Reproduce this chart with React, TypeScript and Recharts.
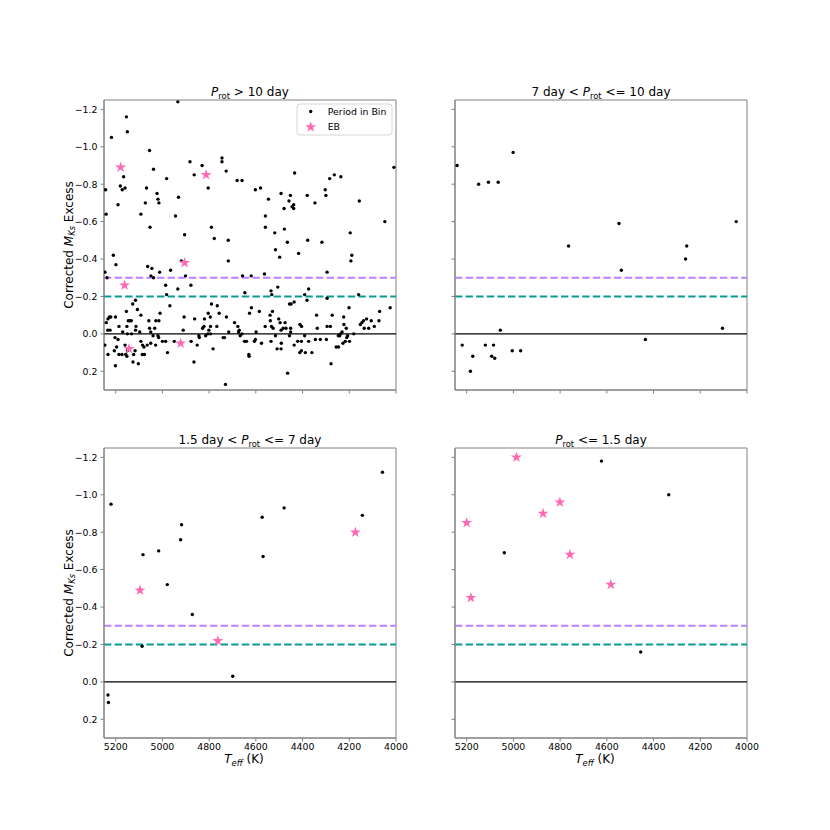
import React from "react";
import {
  ScatterChart,
  Scatter,
  XAxis,
  YAxis,
  ReferenceLine,
  ReferenceArea,
} from "recharts";

// [Teff (K), corrected M_Ks excess]
const slowDots: [number, number][] = [
  [5243, -0.77], [5241, -0.64], [5246, -0.33], [5237, -0.3], [5218, -1.05], [5210, -0.42],
  [5199, -0.37], [5190, -0.69], [5180, -0.79], [5172, -0.77], [5166, -0.84], [5160, -0.78],
  [5154, -1.16], [5150, -1.08], [5092, -0.64], [5068, -0.78], [5073, -0.7], [5063, -0.36],
  [5055, -0.98], [5053, -0.57], [5049, -0.31], [5045, -0.35], [5038, -0.88], [5038, -0.3],
  [5023, -0.75], [5019, -0.72], [5015, -0.7], [5012, -0.33], [4986, -0.26], [4982, -0.83],
  [4982, -0.21], [4965, -0.34], [4944, -0.63], [4934, -1.24], [4931, -0.73], [4934, -0.24],
  [4919, -0.39], [4905, -0.53], [4901, -0.31], [4882, -0.92], [4878, -0.26], [4864, -0.85],
  [4830, -0.9], [4804, -0.78], [4790, -0.57], [4778, -0.51], [4745, -0.94], [4745, -0.92],
  [4727, -0.87], [4718, -0.5], [4718, -0.39], [4680, -0.82], [4659, -0.82], [4657, -0.31],
  [4647, -0.22], [4620, -0.31], [4602, -0.77], [4580, -0.78], [4563, -0.32], [4559, -0.63],
  [4559, -0.57], [4546, -0.72], [4535, -0.23], [4532, -0.21], [4519, -0.54], [4516, -0.45],
  [4506, -0.25], [4498, -0.41], [4492, -0.75], [4479, -0.67], [4478, -0.56], [4465, -0.49],
  [4458, -0.71], [4452, -0.74], [4445, -0.68], [4438, -0.69], [4438, -0.67], [4434, -0.86],
  [4417, -0.43], [4380, -0.74], [4378, -0.5], [4347, -0.7], [4317, -0.49], [4303, -0.77],
  [4300, -0.74], [4295, -0.33], [4284, -0.83], [4264, -0.85], [4236, -0.84], [4196, -0.54],
  [4193, -0.39], [4189, -0.42], [4157, -0.71], [4048, -0.6], [4009, -0.89], [4160, -0.21],
  [4025, -0.14],
  // band around zero, hot side
  [4968, -0.15], [4627, -0.11], [5115, -0.18], [5127, -0.16], [5107, -0.13], [5154, -0.12],
  [5092, -0.1], [5010, -0.11], [5227, -0.09], [5233, -0.08], [5221, -0.09], [5201, -0.09],
  [5240, -0.06], [5234, -0.02], [5224, -0.02], [5186, -0.04], [5170, -0.01], [5152, -0.04],
  [5139, -0.07], [5133, -0.07], [5146, -0.07], [5113, -0.04], [5115, -0.02], [5097, -0.01],
  [5132, 0.0], [5150, 0.0], [5058, -0.07], [5028, -0.07], [5015, -0.07], [5055, -0.03],
  [5033, -0.03], [5050, -0.01], [5040, 0.01], [5019, 0.01], [5016, 0.02], [4911, -0.02],
  [4907, -0.09], [4862, -0.08], [4820, -0.08], [4795, -0.09], [4790, -0.16], [4765, -0.15],
  [4757, -0.11], [4804, -0.11], [4828, -0.03], [4822, -0.04], [4794, -0.04], [4801, -0.02],
  [4767, -0.04], [4844, 0.01], [4842, 0.02], [4815, 0.01], [4805, 0.0], [4794, 0.0],
  [4740, 0.02], [4734, 0.02], [4726, -0.09], [4716, -0.01], [4691, -0.06], [4677, -0.04],
  [4671, -0.02], [4667, 0.01], [4674, -0.01], [4659, 0.0], [4649, 0.04], [4629, 0.12],
  [5246, 0.06], [5233, 0.11], [5206, 0.09], [5203, 0.02], [5190, 0.03], [5196, 0.07],
  [5186, 0.11], [5173, 0.11], [5160, 0.06], [5157, 0.11], [5150, 0.09], [5152, 0.12],
  [5126, 0.15], [5103, 0.16], [5123, 0.11], [5117, 0.09], [5092, 0.04], [5085, 0.06],
  [5079, 0.07], [5086, 0.11], [5077, 0.11], [5201, 0.17], [5065, 0.06], [5050, 0.05],
  [5029, 0.06], [5000, 0.04], [4986, 0.04], [4978, 0.1], [4949, 0.04], [4865, 0.15],
  [4877, 0.04], [4851, 0.06], [4783, 0.08], [4730, 0.27], [4640, 0.04], [4630, 0.11],
  // band around zero, cool side
  [4374, -0.24], [4391, -0.21], [4381, -0.18], [4295, -0.19], [4619, -0.14], [4585, -0.12],
  [4539, -0.1], [4529, -0.12], [4538, -0.07], [4533, -0.04], [4526, -0.03], [4560, -0.04],
  [4502, -0.08], [4496, -0.06], [4492, -0.02], [4475, -0.06], [4471, -0.03], [4483, -0.03],
  [4456, -0.16], [4449, -0.16], [4436, -0.17], [4451, -0.03], [4451, -0.01], [4411, -0.05],
  [4404, -0.04], [4340, -0.1], [4337, -0.03], [4295, -0.04], [4281, -0.04], [4273, -0.1],
  [4224, -0.09], [4223, -0.05], [4213, -0.03], [4201, -0.14], [4238, 0.0], [4231, -0.01],
  [4181, 0.0], [4153, -0.05], [4146, -0.06], [4139, -0.07], [4126, -0.08], [4136, -0.03],
  [4117, -0.03], [4106, -0.07], [4093, -0.04], [4073, -0.07], [4070, -0.12],
  [4599, -0.01], [4606, 0.04], [4602, 0.03], [4576, 0.05], [4535, 0.04], [4516, 0.01],
  [4509, 0.08], [4492, 0.08], [4491, 0.05], [4456, 0.01], [4436, 0.06], [4421, 0.04],
  [4405, 0.04], [4391, 0.01], [4412, 0.1], [4405, 0.09], [4388, 0.1], [4360, 0.1],
  [4374, 0.04], [4345, 0.03], [4324, 0.03], [4298, 0.03], [4278, 0.16], [4256, 0.07],
  [4246, 0.07], [4247, 0.01], [4241, 0.01], [4227, 0.05], [4217, 0.04], [4211, 0.02],
  [4207, 0.01], [4199, 0.04], [4464, 0.21],
];
const slowStars: [number, number][] = [
  [5179, -0.89], [5162, -0.26], [4905, -0.38], [4813, -0.85], [5143, 0.08], [4922, 0.05],
];

const midDots: [number, number][] = [
  [5241, -0.9], [5001, -0.97], [5149, -0.8], [5107, -0.81], [5065, -0.81], [4764, -0.47],
  [4548, -0.59], [4538, -0.34], [4258, -0.47], [4263, -0.4], [4046, -0.6], [4105, -0.03],
  [5056, -0.02], [4435, 0.03], [5219, 0.06], [5174, 0.12], [5184, 0.2], [5120, 0.06],
  [5085, 0.06], [5093, 0.12], [5080, 0.13], [5005, 0.09], [4969, 0.09],
];

const fastDots: [number, number][] = [
  [5220, -0.95], [5083, -0.68], [5016, -0.7], [4979, -0.52], [4922, -0.76], [4918, -0.84],
  [4872, -0.36], [5087, -0.19], [4699, -0.03], [4573, -0.88], [4569, -0.67], [4479, -0.93],
  [4144, -0.89], [4058, -1.12], [5233, 0.07], [5231, 0.11],
];
const fastStars: [number, number][] = [[5096, -0.49], [4763, -0.22], [4174, -0.8]];

const ultraDots: [number, number][] = [[4623, -1.18], [4335, -1.0], [5039, -0.69], [4455, -0.16]];
const ultraStars: [number, number][] = [
  [4987, -1.2], [5200, -0.85], [5182, -0.45], [4873, -0.9], [4801, -0.96], [4758, -0.68],
  [4583, -0.52],
];

const xTicks = [5200, 5000, 4800, 4600, 4400, 4200, 4000];
const yTicks = [-1.2, -1.0, -0.8, -0.6, -0.4, -0.2, 0.0, 0.2];

const FONT = "'DejaVu Sans', sans-serif";
const SPINE = "#808080";
const PINK = "#ff69b4";
const PURPLE = "#bf80ff";
const TEAL = "#0a9b95";

const W = 292;
const H = 290;

const toRows = (pts: [number, number][]) => pts.map(([t, m]) => ({ t, m }));

function starPoints(cx: number, cy: number, r: number) {
  const inner = r * 0.382;
  const pts: string[] = [];
  for (let i = 0; i < 10; i++) {
    const rad = i % 2 === 0 ? r : inner;
    const a = (Math.PI / 5) * i - Math.PI / 2;
    pts.push(`${cx + rad * Math.cos(a)},${cy + rad * Math.sin(a)}`);
  }
  return pts.join(" ");
}

const DotShape = (p: any) => <circle cx={p.cx} cy={p.cy} r={1.7} fill="#000" />;
const StarShape = (p: any) => <polygon points={starPoints(p.cx, p.cy, 5.8)} fill={PINK} />;

const fmtY = (v: number) => v.toFixed(1).replace("-", "\u2212");

interface PanelProps {
  left: number;
  top: number;
  dots: [number, number][];
  stars?: [number, number][];
  showX: boolean;
  showY: boolean;
}

function Panel({ left, top, dots, stars, showX, showY }: PanelProps) {
  const tickStyle = { fill: "#000", fontSize: 9.4, fontFamily: FONT };
  return (
    <div style={{ position: "absolute", left: left - 60, top: top - 10 }}>
      <ScatterChart
        width={60 + W + 25}
        height={10 + H + 30}
        margin={{ top: 10, right: 25, bottom: 0, left: 0 }}
      >
        <XAxis
          dataKey="t"
          type="number"
          domain={[4000, 5250]}
          reversed
          allowDataOverflow
          ticks={xTicks}
          tickFormatter={(v: number) => (showX ? String(v) : "")}
          height={30}
          tickSize={3.5}
          tickMargin={2}
          tick={tickStyle}
          stroke={SPINE}
          axisLine={{ stroke: SPINE }}
          tickLine={{ stroke: SPINE }}
        />
        <YAxis
          dataKey="m"
          type="number"
          domain={[-1.25, 0.3]}
          reversed
          allowDataOverflow
          ticks={yTicks}
          tickFormatter={(v: number) => (showY ? fmtY(v) : "")}
          width={60}
          tickSize={3.5}
          tickMargin={3}
          tick={tickStyle}
          stroke={SPINE}
          axisLine={{ stroke: SPINE }}
          tickLine={{ stroke: SPINE }}
        />
        <ReferenceLine y={-0.3} stroke={PURPLE} strokeWidth={2} strokeDasharray="7.4 3.2" />
        <ReferenceLine y={-0.2} stroke={TEAL} strokeWidth={2} strokeDasharray="7.4 3.2" />
        <ReferenceLine y={0} stroke="#000" strokeWidth={1.2} />
        <Scatter data={toRows(dots)} shape={DotShape} isAnimationActive={false} />
        {stars && <Scatter data={toRows(stars)} shape={StarShape} isAnimationActive={false} />}
        <ReferenceArea
          x1={5250}
          x2={4000}
          y1={-1.25}
          y2={0.3}
          fill="none"
          fillOpacity={0}
          stroke={SPINE}
          strokeWidth={1}
        />
      </ScatterChart>
    </div>
  );
}

function Title({ x, y, before, after }: { x: number; y: number; before: string; after: string }) {
  return (
    <text x={x} y={y} textAnchor="middle" fontSize={12} fontFamily={FONT} fill="#000">
      {before}
      <tspan fontStyle="italic">P</tspan>
      <tspan fontSize={8.4} dy={2.6}>rot</tspan>
      <tspan dy={-2.6}>{after}</tspan>
    </text>
  );
}

function YLabel({ x, y }: { x: number; y: number }) {
  return (
    <text
      transform={`translate(${x},${y}) rotate(-90)`}
      textAnchor="middle"
      fontSize={12}
      fontFamily={FONT}
      fill="#000"
    >
      Corrected <tspan fontStyle="italic">M</tspan>
      <tspan fontStyle="italic" fontSize={8.4} dy={2.6}>Ks</tspan>
      <tspan dy={-2.6}> Excess</tspan>
    </text>
  );
}

function XLabel({ x, y }: { x: number; y: number }) {
  return (
    <text x={x} y={y} textAnchor="middle" fontSize={12} fontFamily={FONT} fill="#000">
      <tspan fontStyle="italic">T</tspan>
      <tspan fontStyle="italic" fontSize={8.4} dy={2.6}>eff</tspan>
      <tspan dy={-2.6}> (K)</tspan>
    </text>
  );
}

export default function App() {
  const L = [104, 455];
  const T = [100, 448];
  return (
    <div
      style={{
        position: "absolute",
        left: 0,
        top: 0,
        width: 830,
        height: 830,
        background: "#fff",
        fontFamily: FONT,
      }}
    >
      <Panel left={L[0]} top={T[0]} dots={slowDots} stars={slowStars} showX={false} showY />
      <Panel left={L[1]} top={T[0]} dots={midDots} showX={false} showY={false} />
      <Panel left={L[0]} top={T[1]} dots={fastDots} stars={fastStars} showX showY />
      <Panel left={L[1]} top={T[1]} dots={ultraDots} stars={ultraStars} showX showY={false} />
      <svg
        width={830}
        height={830}
        style={{ position: "absolute", left: 0, top: 0, pointerEvents: "none" }}
      >
        <Title x={L[0] + W / 2} y={96} before="" after=" > 10 day" />
        <Title x={L[1] + W / 2} y={96} before="7 day < " after=" <= 10 day" />
        <Title x={L[0] + W / 2} y={444} before="1.5 day < " after=" <= 7 day" />
        <Title x={L[1] + W / 2} y={444} before="" after=" <= 1.5 day" />
        <YLabel x={72.5} y={T[0] + H / 2} />
        <YLabel x={72.5} y={T[1] + H / 2} />
        <XLabel x={L[0] + W / 2 - 6} y={763} />
        <XLabel x={L[1] + W / 2 - 6} y={763} />
        {/* legend of the first panel */}
        <rect x={297} y={104} width={95} height={31} rx={3} fill="#fff" fillOpacity={0.8} stroke="#d6d6d6" />
        <circle cx={310.7} cy={111.5} r={1.7} fill="#000" />
        <polygon points={starPoints(310.7, 127, 5.8)} fill={PINK} />
        <text x={327.7} y={115} fontSize={9.4} fontFamily={FONT} fill="#000">Period in Bin</text>
        <text x={327.7} y={130} fontSize={9.4} fontFamily={FONT} fill="#000">EB</text>
      </svg>
    </div>
  );
}
